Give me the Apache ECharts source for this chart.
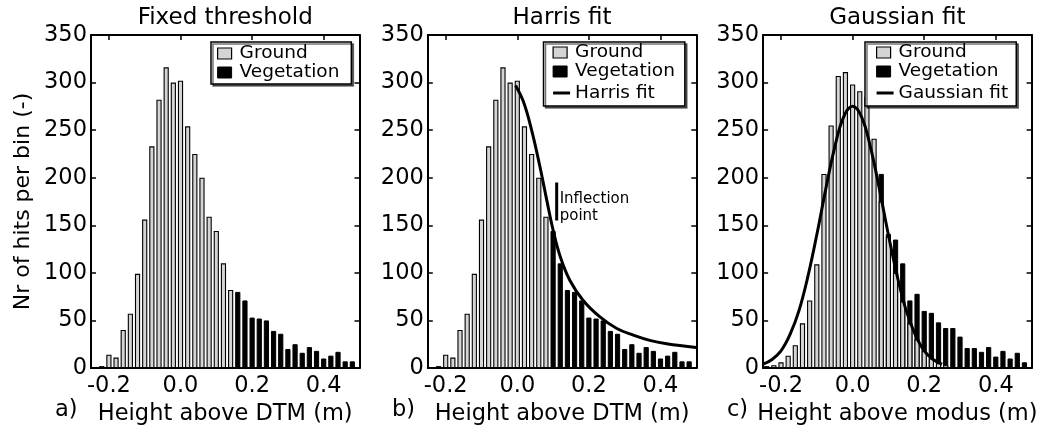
<!DOCTYPE html>
<html>
<head>
<meta charset="utf-8">
<script src="https://cdn.jsdelivr.net/npm/echarts@6.0.0/dist/echarts.min.js"></script>
<style>
html, body { margin: 0; padding: 0; background: #fff; }
#chart { width: 1038px; height: 428px; }
</style>
</head>
<body>
<div id="chart"></div>
<script>
// bin centres (m), bins are 0.02 wide
var binCenters = [-0.24, -0.22, -0.20, -0.18, -0.16, -0.14, -0.12, -0.10, -0.08, -0.06,
    -0.04, -0.02, 0.00, 0.02, 0.04, 0.06, 0.08, 0.10, 0.12, 0.14,
    0.16, 0.18, 0.20, 0.22, 0.24, 0.26, 0.28, 0.30, 0.32, 0.34,
    0.36, 0.38, 0.40, 0.42, 0.44, 0.46, 0.48];

// hits per bin, height above DTM (panels a and b)
var dtmCounts = [1, 2, 14, 11, 40, 57, 99, 156, 233, 282,
    316, 300, 302, 254, 225, 200, 159, 144, 110, 82,
    80, 71, 53, 52, 50, 39, 36, 20, 25, 16,
    22, 18, 10, 13, 17, 7, 7];

// hits per bin, height above modus (panel c)
var modusCounts = [2, 3, 6, 13, 24, 47, 71, 109, 204, 255,
    307, 311, 298, 291, 285, 241, 204, 141, 135, 110,
    71, 78, 60, 58, 48, 42, 42, 33, 21, 21,
    17, 22, 12, 18, 10, 16, 6];
// ground part of the mixed bins in panel c (from bin 16 on)
var modusGroundTail = [175, 138, 100, 70, 47, 30, 18, 10, 5, 3, 1];

// first bin classified as vegetation
var vegStartFixed = 20;
var vegStartHarris = 17;
var vegStartGauss = 16;

// fitted curves
var harrisFit = [[-0.005, 297], [0.017, 280], [0.04, 250], [0.063, 212], [0.082, 177],
    [0.10, 145], [0.12, 117], [0.147, 92], [0.184, 71], [0.23, 54],
    [0.278, 41.5], [0.324, 34.5], [0.37, 29], [0.417, 25.5], [0.5, 21.5]];
var gaussFit = [[-0.25, 4], [-0.225, 9], [-0.2, 18], [-0.175, 35], [-0.15, 60],
    [-0.125, 96], [-0.1, 140], [-0.075, 188], [-0.05, 232], [-0.025, 264],
    [0, 275], [0.025, 264], [0.05, 232], [0.075, 188], [0.1, 140],
    [0.125, 96], [0.15, 60], [0.175, 35], [0.2, 18], [0.225, 9], [0.25, 4]];
var inflection = [[0.11, 155], [0.11, 175], [0.11, 195]];

var xTicks = [-0.2, 0, 0.2, 0.4];

var FONT = 'DejaVu Sans';
var GROUND = '#d4d4d4';
var GRID_W = 268.5, GRID_H = 333, GRID_TOP = 35;
var BAR_W = 5.2;

var panels = [
    { title: 'Fixed threshold', tag: 'a)', xName: 'Height above DTM (m)', left: 91, tagLeft: 55,
      counts: dtmCounts, vegStart: vegStartFixed, tail: [], fitName: null, fit: null,
      legendLeft: 211, legendPad: [2, 12, 2, 6] },
    { title: 'Harris fit', tag: 'b)', xName: 'Height above DTM (m)', left: 427.8, tagLeft: 392,
      counts: dtmCounts, vegStart: vegStartHarris, tail: [], fitName: 'Harris fit', fit: harrisFit,
      legendLeft: 543.5, legendPad: [1, 10, 1, 9] },
    { title: 'Gaussian fit', tag: 'c)', xName: 'Height above modus (m)', left: 763.1, tagLeft: 727,
      counts: modusCounts, vegStart: vegStartGauss, tail: modusGroundTail, fitName: 'Gaussian fit', fit: gaussFit,
      legendLeft: 865, legendPad: [1, 8, 1, 11] }
];

var squareIcon = 'path://M0,0.5 L14,0.5 L14,11.5 L0,11.5 Z M17,12 M0,0';
var lineIcon = 'path://M0,0 M0,4.5 L17,4.5 L17,7.5 L0,7.5 Z M17,12';

function makeOption() {
    var grid = [], xAxis = [], yAxis = [], series = [], title = [], legend = [];
    panels.forEach(function (p, i) {
        grid.push({ left: p.left, top: GRID_TOP, width: GRID_W, height: GRID_H,
            containLabel: false, outerBoundsMode: 'none' });
        var axLine = { show: true, onZero: false, lineStyle: { color: '#000', width: 2 } };
        xAxis.push({
            type: 'value', gridIndex: i, position: 'bottom', min: -0.25, max: 0.5,
            axisLine: axLine,
            axisTick: { inside: true, length: 5, customValues: xTicks, lineStyle: { color: '#000', width: 1.5 } },
            axisLabel: { customValues: xTicks, margin: 7, color: '#000', fontSize: 22.5, fontFamily: FONT,
                formatter: function (v) { return v.toFixed(1); } },
            splitLine: { show: false },
            name: p.xName, nameLocation: 'middle', nameGap: 33,
            nameTextStyle: { color: '#000', fontSize: 22.5, fontFamily: FONT }
        });
        xAxis.push({
            type: 'value', gridIndex: i, position: 'top', min: -0.25, max: 0.5,
            axisLine: axLine,
            axisTick: { inside: true, length: 5, customValues: xTicks, lineStyle: { color: '#000', width: 1.5 } },
            axisLabel: { show: false }, splitLine: { show: false }
        });
        yAxis.push({
            type: 'value', gridIndex: i, position: 'left', min: 0, max: 350, interval: 50,
            axisLine: axLine,
            axisTick: { inside: true, length: 5, lineStyle: { color: '#000', width: 1.5 } },
            axisLabel: { margin: 4, color: '#000', fontSize: 22.5, fontFamily: FONT },
            splitLine: { show: false },
            name: i === 0 ? 'Nr of hits per bin (-)' : '', nameLocation: 'middle', nameRotate: 90, nameGap: 57,
            nameTextStyle: { color: '#000', fontSize: 22, fontFamily: FONT }
        });
        yAxis.push({
            type: 'value', gridIndex: i, position: 'right', min: 0, max: 350, interval: 50,
            axisLine: axLine,
            axisTick: { inside: true, length: 5, lineStyle: { color: '#000', width: 1.5 } },
            axisLabel: { show: false }, splitLine: { show: false }
        });

        var veg = [], ground = [];
        for (var k = 0; k < binCenters.length; k++) {
            if (k < p.vegStart) {
                ground.push([binCenters[k], p.counts[k]]);
            } else {
                veg.push([binCenters[k], p.counts[k]]);
                var t = p.tail[k - p.vegStart];
                if (t) ground.push([binCenters[k], t]);
            }
        }
        series.push({
            name: 'Vegetation', type: 'bar', xAxisIndex: 2 * i, yAxisIndex: 2 * i,
            barWidth: BAR_W, barGap: '-100%', z: 2, data: veg,
            itemStyle: { color: '#000', borderColor: '#000', borderWidth: 1 }
        });
        series.push({
            name: 'Ground', type: 'bar', xAxisIndex: 2 * i, yAxisIndex: 2 * i,
            barWidth: BAR_W, barGap: '-100%', z: 3, data: ground,
            itemStyle: { color: GROUND, borderColor: '#000', borderWidth: 1.1 }
        });
        if (p.fit) {
            series.push({
                name: p.fitName, type: 'line', xAxisIndex: 2 * i, yAxisIndex: 2 * i,
                data: p.fit, smooth: 0.4, symbol: 'none', z: 5,
                lineStyle: { color: '#000', width: 3 }, itemStyle: { color: '#000' }
            });
        }

        title.push({ text: p.title, left: p.left + GRID_W / 2, textAlign: 'center', top: 7, padding: 0,
            textStyle: { color: '#000', fontSize: 23, fontWeight: 'normal', fontFamily: FONT } });
        title.push({ text: p.tag, left: p.tagLeft, top: 399, padding: 0,
            textStyle: { color: '#000', fontSize: 22.5, fontWeight: 'normal', fontFamily: FONT } });

        var items = [
            { name: 'Ground', icon: squareIcon, itemStyle: { color: GROUND, borderColor: '#000', borderWidth: 1.2 } },
            { name: 'Vegetation', icon: squareIcon, itemStyle: { color: '#000', borderColor: '#000', borderWidth: 1 } }
        ];
        if (p.fit) {
            items.push({ name: p.fitName, icon: lineIcon, itemStyle: { color: '#000', borderWidth: 0 },
                textStyle: { lineHeight: 24 } });
        }
        legend.push({
            orient: 'vertical', left: p.legendLeft, top: 42, padding: p.legendPad,
            itemWidth: 17, itemHeight: 12, itemGap: 0, selectedMode: false,
            data: items,
            textStyle: { color: '#000', fontSize: 18.5, fontFamily: FONT, lineHeight: 17 },
            backgroundColor: '#fff', borderColor: '#000', borderWidth: 1.5, borderRadius: 0,
            shadowColor: 'rgba(0,0,0,0.55)', shadowOffsetX: 2, shadowOffsetY: 2, shadowBlur: 0.01
        });
    });

    // inflection point marker in panel b
    series.push({
        name: 'inflection', type: 'line', xAxisIndex: 2, yAxisIndex: 2, z: 6,
        symbol: 'circle', symbolSize: 0, showSymbol: true,
        lineStyle: { color: '#000', width: 3 }, itemStyle: { color: '#000' },
        data: inflection.map(function (d, j) {
            if (j !== 1) return d;
            return { value: d, label: { show: true, position: 'right', distance: 3, offset: [0, 6],
                formatter: 'Inflection\npoint', color: '#000', fontSize: 15, lineHeight: 16.5, fontFamily: FONT } };
        })
    });

    return {
        animation: false,
        backgroundColor: '#fff',
        textStyle: { fontFamily: FONT },
        title: title,
        legend: legend,
        grid: grid,
        xAxis: xAxis,
        yAxis: yAxis,
        series: series
    };
}

var myChart = echarts.init(document.getElementById('chart'), null, { renderer: 'canvas' });
myChart.setOption(makeOption());
</script>
</body>
</html>
